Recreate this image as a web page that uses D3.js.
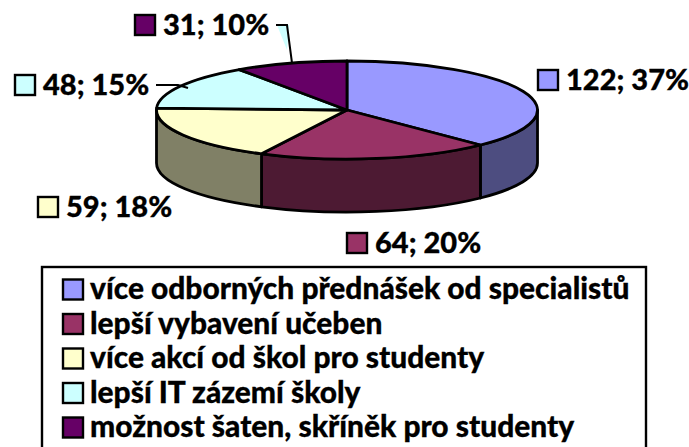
<!DOCTYPE html>
<html>
<head>
<meta charset="utf-8">
<script src="https://cdn.jsdelivr.net/npm/d3@7"></script>
<style>
  html, body { margin: 0; padding: 0; background: #fff; overflow: hidden; }
  text { font-family: Lato, sans-serif; font-weight: 900; fill: #000; stroke: #000; stroke-width: 0.3px; }
</style>
</head>
<body>
<div id="chart"></div>
<script>
const categories = [
    "více odborných přednášek od specialistů",
    "lepší vybavení učeben",
    "více akcí od škol pro studenty",
    "lepší IT zázemí školy",
    "možnost šaten, skříněk pro studenty"
];
const values = [122, 64, 59, 48, 31];
const percents = [37, 20, 18, 15, 10];
const colors = ["#9999ff", "#993366", "#ffffcc", "#ccffff", "#660066"];
const sideColors = ["#4d4d80", "#4d1a33", "#808066", "#668080", "#330033"];

const width = 689, height = 447;
const cx = 347, cy = 110, rx = 190.5, ry = 49, depth = 53;

const svg = d3.select("#chart").append("svg")
    .attr("width", width)
    .attr("height", height);

const pie = d3.pie().sort(null)(values);

const px = a => cx + rx * Math.sin(a);
const py = a => cy - ry * Math.cos(a);

// elliptical arc from a0 to a1, clockwise seen from above
function arcTo(p, a0, a1, dy, reverse) {
    const to = reverse ? a0 : a1;
    const large = Math.abs(a1 - a0) > Math.PI ? 1 : 0;
    p.push(`A${rx},${ry} 0 ${large} ${reverse ? 0 : 1} ${px(to)},${py(to) + dy}`);
}

// side walls, only the front half of the ellipse shows
const sides = [];
pie.forEach((d, i) => {
    const a0 = Math.max(d.startAngle, Math.PI / 2);
    const a1 = Math.min(d.endAngle, Math.PI * 1.5);
    if (a1 <= a0) return;
    const p = [`M${px(a0)},${py(a0)}`];
    arcTo(p, a0, a1, 0, false);
    p.push(`L${px(a1)},${py(a1) + depth}`);
    arcTo(p, a0, a1, depth, true);
    p.push("Z");
    sides.push({ path: p.join(" "), i: i });
});

svg.selectAll("path.side")
    .data(sides)
    .enter()
    .append("path")
    .attr("class", "side")
    .attr("d", d => d.path)
    .attr("fill", d => sideColors[d.i])
    .attr("stroke", "#000")
    .attr("stroke-width", 2.8)
    .attr("stroke-linejoin", "round");

svg.selectAll("path.top")
    .data(pie)
    .enter()
    .append("path")
    .attr("class", "top")
    .attr("d", d => {
        const p = [`M${cx},${cy}`, `L${px(d.startAngle)},${py(d.startAngle)}`];
        arcTo(p, d.startAngle, d.endAngle, 0, false);
        p.push("Z");
        return p.join(" ");
    })
    .attr("fill", (d, i) => colors[i])
    .attr("stroke", "#000")
    .attr("stroke-width", 2.8)
    .attr("stroke-linejoin", "round");

// leader lines
svg.append("path")
    .attr("d", "M277,25 L287,50 L289,25 Z")
    .attr("fill", "#ccffff");
svg.append("path")
    .attr("d", "M276,25 L287,25 L292,63")
    .attr("fill", "none").attr("stroke", "#000").attr("stroke-width", 2);
svg.append("path")
    .attr("d", "M156,85 L178,85 L188,88")
    .attr("fill", "none").attr("stroke", "#000").attr("stroke-width", 2);

// data labels
const labelPos = [[538, 70], [347, 233], [38, 197], [15, 75], [135, 15]];
const labels = svg.selectAll("g.label")
    .data(values)
    .enter()
    .append("g")
    .attr("class", "label")
    .attr("transform", (d, i) => `translate(${labelPos[i]})`);

labels.append("rect")
    .attr("width", 20).attr("height", 20)
    .attr("fill", (d, i) => colors[i])
    .attr("stroke", "#000")
    .attr("stroke-width", 2.4);

labels.append("text")
    .attr("x", 28)
    .attr("y", 20)
    .attr("font-size", 29)
    .text((d, i) => `${d}; ${percents[i]}%`);

// legend, the bottom edge runs off the picture
svg.append("rect")
    .attr("x", 42).attr("y", 267)
    .attr("width", 604).attr("height", 190)
    .attr("fill", "none")
    .attr("stroke", "#000")
    .attr("stroke-width", 2.4);

const legendY = d3.scalePoint().domain(categories).range([289.5, 427.5]);

const items = svg.selectAll("g.legend")
    .data(categories)
    .enter()
    .append("g")
    .attr("class", "legend")
    .attr("transform", d => `translate(63,${legendY(d)})`);

items.append("rect")
    .attr("y", -10).attr("width", 20).attr("height", 20)
    .attr("fill", (d, i) => colors[i])
    .attr("stroke", "#000")
    .attr("stroke-width", 2.4);

items.append("text")
    .attr("x", 27)
    .attr("y", 9.5)
    .attr("font-size", 29.9)
    .text(d => d);
</script>
</body>
</html>
